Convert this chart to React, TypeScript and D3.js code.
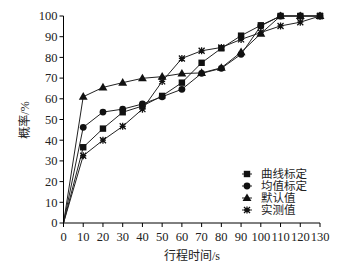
import React from "react";
import * as d3 from "d3";

const xValues = [0, 10, 20, 30, 40, 50, 60, 70, 80, 90, 100, 110, 120, 130];
const curveCalib = [0, 36.6, 45.6, 53.5, 56.5, 61.4, 67.8, 77.4, 84.4, 90.5, 95.5, 100, 100, 100];
const meanCalib = [0, 46.2, 53.6, 55, 57.5, 61, 64.6, 72.3, 74.7, 81.5, 95.2, 100, 100, 100];
const defaultVal = [0, 61, 65.5, 67.8, 69.9, 70.7, 72.2, 72.5, 75, 82.5, 91.5, 100, 100, 100];
const measured = [0, 32.5, 40, 46.7, 55, 68.4, 79.5, 83.2, 84.8, 88.7, 92, 95.2, 97, 100];
const seriesNames = ["曲线标定", "均值标定", "默认值", "实测值"];
const xTicks = [0, 10, 20, 30, 40, 50, 60, 70, 80, 90, 100, 110, 120, 130];
const yTicks = [0, 10, 20, 30, 40, 50, 60, 70, 80, 90, 100];

const W = 358, H = 269;
const L = 63.5, R = 320, T = 16, B = 223;
const font = "'Liberation Serif', 'Noto Sans CJK SC', serif";

function Marker({ type, x, y }: { type: string; x: number; y: number }) {
  if (type === "square") return <rect x={x - 3.2} y={y - 3.2} width={6.4} height={6.4} fill="#111" />;
  if (type === "circle") return <circle cx={x} cy={y} r={3.4} fill="#111" />;
  if (type === "triangle") return <path d={d3.symbol(d3.symbolTriangle, 34)()!} transform={`translate(${x},${y + 0.5})`} fill="#111" />;
  const s = 3;
  return (
    <path
      d={`M${x - s},${y - s}L${x + s},${y + s}M${x - s},${y + s}L${x + s},${y - s}M${x},${y - s - 0.5}L${x},${y + s + 0.5}M${x - s},${y}L${x + s},${y}`}
      stroke="#111" strokeWidth={1.3} fill="none"
    />
  );
}

export default function App() {
  const x = d3.scaleLinear().domain([0, 130]).range([L, R]);
  const y = d3.scaleLinear().domain([0, 100]).range([B, T]);
  const series = [
    { name: seriesNames[0], values: curveCalib, type: "square" },
    { name: seriesNames[1], values: meanCalib, type: "circle" },
    { name: seriesNames[2], values: defaultVal, type: "triangle" },
    { name: seriesNames[3], values: measured, type: "star" },
  ];
  const line = d3.line<number>().x((_, i) => x(xValues[i])).y((d) => y(d));
  const legendY = [174, 186, 198, 210];
  return (
    <svg width={W} height={H} style={{ position: "absolute", left: 0, top: 0, background: "#fff" }}>
      <rect width={W} height={H} fill="#fff" />
      {series.map((s) => (
        <g key={s.name}>
          <path d={line(s.values)!} fill="none" stroke="#222" strokeWidth={1} />
          {s.values.map((v, i) => (i === 0 ? null : <Marker key={i} type={s.type} x={x(xValues[i])} y={y(v)} />))}
        </g>
      ))}
      <line x1={L} y1={T} x2={L} y2={B} stroke="#000" strokeWidth={1} />
      <line x1={L} y1={B} x2={R} y2={B} stroke="#000" strokeWidth={1} />
      {yTicks.map((t) => (
        <g key={"y" + t}>
          <line x1={L - 4} x2={L} y1={y(t)} y2={y(t)} stroke="#000" />
          <text x={L - 6} y={y(t)} dy="0.35em" textAnchor="end" fontFamily={font} fontSize={12.5} fill="#222">{t}</text>
        </g>
      ))}
      {xTicks.map((t) => (
        <g key={"x" + t}>
          <line x1={x(t)} x2={x(t)} y1={B} y2={B + 4} stroke="#000" />
          <text x={x(t)} y={241} textAnchor="middle" fontFamily={font} fontSize={12.5} fill="#222">{t}</text>
        </g>
      ))}
      <text x={192} y={259.5} textAnchor="middle" fontFamily={font} fontSize={12} fill="#222">行程时间/s</text>
      <text transform={`translate(29,120) rotate(-90)`} textAnchor="middle" fontFamily={font} fontSize={12} fill="#222">概率/%</text>
      {series.map((s, i) => (
        <g key={"lg" + i}>
          <line x1={242} x2={252} y1={legendY[i]} y2={legendY[i]} stroke="#222" />
          <Marker type={s.type} x={247} y={legendY[i]} />
          <text x={261} y={legendY[i]} dy="0.38em" fontFamily={font} fontSize={11.5} fill="#222">{s.name}</text>
        </g>
      ))}
    </svg>
  );
}
